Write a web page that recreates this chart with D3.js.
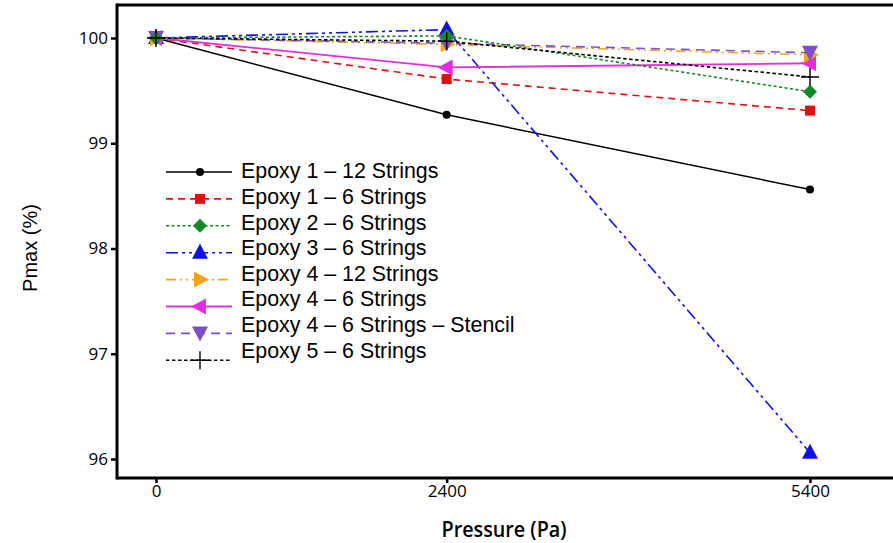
<!DOCTYPE html>
<html><head><meta charset="utf-8">
<script src="https://cdn.jsdelivr.net/npm/d3@7"></script>
<style>body{margin:0;background:#fff}svg{display:block}</style>
</head><body>
<svg id="c" width="893" height="543"></svg>
<script>
const pressures = [0, 2400, 5400];
const xTicks = [0, 2400, 5400];
const yTicks = [96, 97, 98, 99, 100];
const seriesNames = ["Epoxy 1 \u2013 12 Strings","Epoxy 1 \u2013 6 Strings","Epoxy 2 \u2013 6 Strings","Epoxy 3 \u2013 6 Strings","Epoxy 4 \u2013 12 Strings","Epoxy 4 \u2013 6 Strings","Epoxy 4 \u2013 6 Strings \u2013 Stencil","Epoxy 5 \u2013 6 Strings"];
const epoxy1_12 = [100, 99.27, 98.56];
const epoxy1_6 = [100, 99.61, 99.31];
const epoxy2_6 = [100, 100.02, 99.49];
const epoxy3_6 = [100, 100.08, 96.06];
const epoxy4_12 = [100, 99.94, 99.84];
const epoxy4_6 = [100, 99.72, 99.76];
const epoxy4_6s = [100, 99.95, 99.86];
const epoxy5_6 = [100, 99.97, 99.63];
const seriesValues = [epoxy1_12, epoxy1_6, epoxy2_6, epoxy3_6, epoxy4_12, epoxy4_6, epoxy4_6s, epoxy5_6];

const colors = ["#000000","#e01010","#138a24","#1010e8","#f7a21b","#e02ee0","#7e4fc8","#000000"];
const dashes = ["none","7,5","3,2.5","12,4,3,4,3,4","10,4,2,4,2,4","none","9,6","3.5,2.5"];
const markers = ["circle","square","diamond","up","right","left","down","plus"];
const widths = [1.5,1.6,1.6,1.6,1.6,1.8,1.6,1.6];

const svg = d3.select("#c");
const L = 117, T = 5, B = 478, R = 893;
const x = d3.scaleLinear().domain([0, 5400]).range([156, 810]);
const y = d3.scaleLinear().domain([96, 100]).range([459, 38]);

svg.append("line").attr("x1",L).attr("x2",R).attr("y1",T).attr("y2",T).attr("stroke","#000").attr("stroke-width",3);
svg.append("line").attr("x1",L).attr("x2",L).attr("y1",T-1.5).attr("y2",B+1.5).attr("stroke","#000").attr("stroke-width",3);

const xAxis = svg.append("g").attr("transform",`translate(0,${B})`)
  .call(d3.axisBottom(x).tickValues(xTicks).tickFormat(d3.format("d")).tickSize(5).tickSizeOuter(0));
xAxis.select(".domain").attr("d",`M${L},0H${R}`).attr("stroke-width",3);
xAxis.selectAll(".tick line").attr("stroke-width",2.5);
xAxis.selectAll("text").attr("font-family","'Open Sans', sans-serif").attr("font-size",17).attr("fill","#000").attr("dy","0.71em").attr("y",7);

const yAxis = svg.append("g").attr("transform",`translate(${L},0)`)
  .call(d3.axisLeft(y).tickValues(yTicks).tickFormat(d3.format("d")).tickSize(6).tickSizeOuter(0));
yAxis.select(".domain").remove();
yAxis.selectAll(".tick line").attr("stroke-width",2.5);
yAxis.selectAll("text").attr("font-family","'Open Sans', sans-serif").attr("font-size",17).attr("fill","#000").attr("x",-9);

svg.append("text").attr("x",504).attr("y",537).attr("text-anchor","middle")
  .attr("font-family","'Open Sans', sans-serif").attr("font-size",21).attr("font-weight",600)
  .attr("textLength",125).attr("lengthAdjust","spacingAndGlyphs")
  .text("Pressure (Pa)");
svg.append("text").attr("transform","translate(37,248) rotate(-90)").attr("text-anchor","middle")
  .attr("font-family","'Liberation Sans', Arial, sans-serif").attr("font-size",20)
  .text("Pmax (%)");

function drawMarker(g, type, cx, cy, color, s) {
  s = s || 1;
  if (type === "circle") g.append("circle").attr("cx",cx).attr("cy",cy).attr("r",4*s).attr("fill",color);
  else if (type === "square") g.append("rect").attr("x",cx-5*s).attr("y",cy-5*s).attr("width",10*s).attr("height",10*s).attr("fill",color);
  else if (type === "diamond") g.append("path").attr("d",`M${cx},${cy-7*s}L${cx+7*s},${cy}L${cx},${cy+7*s}L${cx-7*s},${cy}Z`).attr("fill",color);
  else if (type === "up") g.append("path").attr("d",`M${cx},${cy-9*s}L${cx+8*s},${cy+6*s}L${cx-8*s},${cy+6*s}Z`).attr("fill",color);
  else if (type === "down") g.append("path").attr("d",`M${cx},${cy+8*s}L${cx+8*s},${cy-7*s}L${cx-8*s},${cy-7*s}Z`).attr("fill",color);
  else if (type === "right") g.append("path").attr("d",`M${cx+9*s},${cy}L${cx-6*s},${cy-8*s}L${cx-6*s},${cy+8*s}Z`).attr("fill",color);
  else if (type === "left") g.append("path").attr("d",`M${cx-9*s},${cy}L${cx+6*s},${cy-8*s}L${cx+6*s},${cy+8*s}Z`).attr("fill",color);
  else if (type === "plus") g.append("path").attr("d",`M${cx-9*s},${cy}H${cx+9*s}M${cx},${cy-9*s}V${cy+9*s}`).attr("stroke",color).attr("stroke-width",1.4);
}

const line = d3.line().x((d,i)=>x(pressures[i])).y(d=>y(d));
const order = [0,1,3,5,4,6,2,7];
order.forEach(k => {
  const g = svg.append("g");
  g.append("path").attr("d", line(seriesValues[k])).attr("fill","none")
    .attr("stroke",colors[k]).attr("stroke-width",widths[k]).attr("stroke-dasharray",dashes[k]);
  seriesValues[k].forEach((v,i)=> drawMarker(g, markers[k], x(pressures[i]), y(v), colors[k], 1));
});

const lg = svg.append("g");
seriesNames.forEach((name,i)=>{
  const ty = 171 + i*25.6;
  const ly = ty + 1 + i*1.3;
  lg.append("line").attr("x1",166).attr("x2",232).attr("y1",ly).attr("y2",ly)
    .attr("stroke",colors[i]).attr("stroke-width",widths[i]).attr("stroke-dasharray",dashes[i]);
  drawMarker(lg, markers[i], 200, ly, colors[i], 1);
  lg.append("text").attr("x",241).attr("y",ty).attr("dy","0.35em")
    .attr("font-family","'Liberation Sans', Arial, sans-serif").attr("font-size",21.4).text(name);
});
</script>
</body></html>
